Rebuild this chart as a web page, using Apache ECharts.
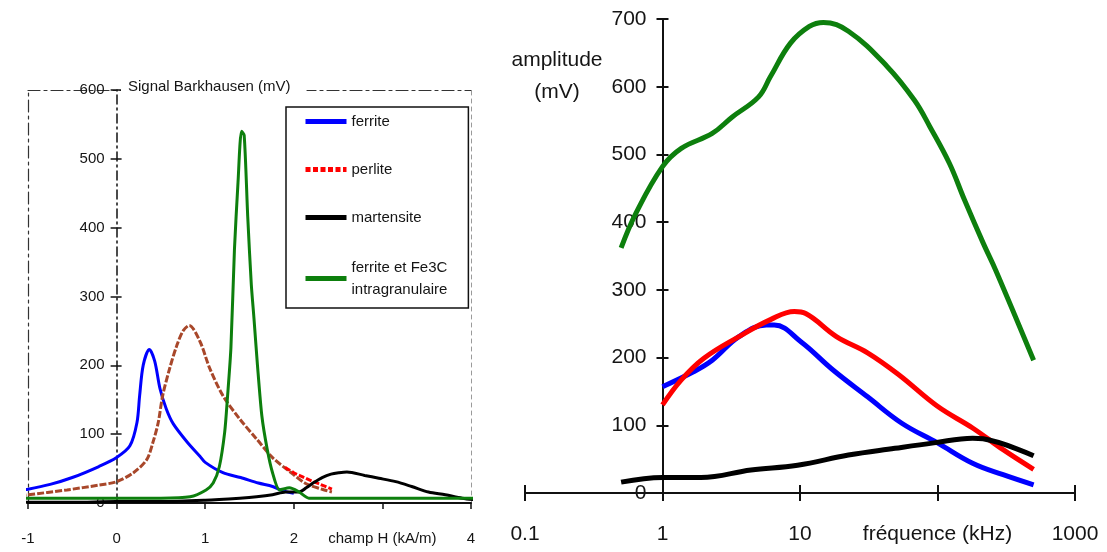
<!DOCTYPE html>
<html><head><meta charset="utf-8">
<script src="https://cdn.jsdelivr.net/npm/echarts@6/dist/echarts.min.js"></script>
<style>html,body{margin:0;padding:0;background:#fff}#c{width:1107px;height:552px}</style>
</head><body><div id="c"></div>
<script>
const FONT = "'Liberation Sans',Arial,Helvetica,sans-serif";

// ---------- Left panel: Barkhausen signal vs field ----------
const leftXTicks = [-1, 0, 1, 2, 3, 4];
const leftXLabels = ['-1', '0', '1', '2', 'champ H (kA/m)', '4'];

const ferriteH = [-1.2, -1, -0.75, -0.5, -0.2, 0, 0.15, 0.23, 0.26, 0.3, 0.37, 0.43, 0.49, 0.56, 0.64, 0.8, 0.94, 1.0, 1.2, 1.4, 1.6, 1.76, 1.87, 2.0];
const ferriteV = [16, 20, 27, 37, 53, 66, 83, 117, 156, 200, 223, 206, 166, 137, 115, 88, 68, 59, 44, 37, 29, 24, 18, 14];

const perliteH = [-1.2, -1, -0.56, -0.2, 0, 0.19, 0.34, 0.41, 0.47, 0.52, 0.6, 0.68, 0.75, 0.82, 0.94, 1.05, 1.2, 1.39, 1.58, 1.76, 1.95, 2.14, 2.32, 2.43];
const perliteV = [10, 12, 19, 26, 31, 44, 63, 88, 117, 156, 196, 229, 250, 258, 235, 196, 156, 122, 93, 66, 46, 28, 20, 16];
const perliteTailH = [1.9, 2.0, 2.1, 2.2, 2.3, 2.43];
const perliteTailV = [52, 44, 38, 32, 27, 20];

const martensiteH = [-1.2, -0.5, 0, 0.5, 1.0, 1.39, 1.58, 1.76, 1.91, 2.06, 2.14, 2.23, 2.32, 2.42, 2.51, 2.6, 2.8, 2.96, 3.15, 3.33, 3.52, 3.71, 3.9, 4.1, 4.2];
const martensiteV = [1, 1, 2, 2, 4, 7, 9, 12, 16, 16, 22, 30, 37, 42, 44, 45, 40, 36, 31, 24, 16, 12, 7, 4, 3];

const fe3cH = [-1.2, -0.5, 0, 0.5, 0.83, 1.01, 1.09, 1.16, 1.22, 1.25, 1.29, 1.33, 1.37, 1.41, 1.44, 1.48, 1.52, 1.55, 1.59, 1.64, 1.7, 1.76, 1.84, 1.95, 2.06, 2.17, 2.5, 3, 3.5, 4, 4.2];
const fe3cV = [7, 7, 7, 7, 9, 19, 29, 53, 103, 151, 225, 368, 465, 540, 534, 416, 318, 269, 200, 126, 78, 44, 19, 22, 16, 7, 7, 7, 7, 7, 7];

// ---------- Right panel: amplitude vs frequency ----------
const rightXTicks = [0.1, 1, 10, 100, 1000];
const rightXLabels = ['0.1', '1', '10', 'fréquence (kHz)', '1000'];

const freqFerrite = [1, 1.68, 2.3, 3.6, 5.7, 6.5, 10.2, 17.3, 31, 55, 100, 180, 300, 500];
const ampFerrite = [157, 179, 196, 231, 248, 248, 223, 182, 142, 103, 74, 44, 27, 12];
const freqPerlite = [1, 1.37, 2.0, 3.6, 6.1, 9.1, 11, 18.4, 31, 52, 100, 180, 300, 500];
const ampPerlite = [130, 167, 199, 231, 256, 268, 265, 231, 207, 175, 128, 96, 64, 35];
const freqMartensite = [0.5, 1, 1.9, 4.4, 9.6, 22.5, 49, 94, 180, 215, 500];
const ampMartensite = [16, 23, 23, 34, 41, 56, 66, 74, 81, 80, 55];
const freqFe3c = [0.5, 0.64, 1, 1.37, 2.3, 3.2, 5, 6.1, 8.5, 11.7, 14.8, 22.5, 43, 68, 88, 122, 157, 215, 265, 500];
const ampFe3c = [362, 413, 482, 509, 531, 555, 585, 615, 664, 689, 695, 682, 630, 580, 541, 487, 433, 369, 329, 196];

const NAME_F = 'ferrite', NAME_P = 'perlite', NAME_M = 'martensite', NAME_G = 'ferrite et Fe3C\nintragranulaire';
const BLUE = '#0000ff', RED = '#ff0000', BROWN = '#a8472a', BLACK = '#000000', GREEN = '#0d7f0d';
const TXT = '#151515';

const zip = (xs, ys) => xs.map((x, i) => [x, ys[i]]);

function leftLabel(v) {
  const i = leftXTicks.findIndex(t => Math.abs(t - v) < 1e-9);
  return i >= 0 ? leftXLabels[i] : '';
}
function rightLabel(v) {
  const i = rightXTicks.findIndex(t => Math.abs(Math.log10(t) - Math.log10(v)) < 1e-6);
  return i >= 0 ? rightXLabels[i] : '';
}

const LG = {left: 28, top: 90, width: 443, height: 413};
const RG = {left: 525, top: 19, width: 550, height: 474};
const leftZeroOffset = -LG.width / 5;       // axis drawn at x = 0 (range -1..4)
const rightOneOffset = -RG.width / 4;       // axis drawn at x = 1 (log range 0.1..1000)

const frameDash = [12, 4, 3, 4];

const option = {
  animation: false,
  backgroundColor: '#ffffff',
  textStyle: {fontFamily: FONT, color: TXT},
  title: [
    {text: 'Signal Barkhausen (mV)', left: 121, top: 74.5, padding: [2, 16, 2, 7], backgroundColor: '#ffffff',
     textStyle: {fontFamily: FONT, fontSize: 15, fontWeight: 'normal', color: TXT, lineHeight: 20}},
    {text: 'amplitude\n(mV)', left: 557, top: 44, textAlign: 'center', padding: 0,
     textStyle: {fontFamily: FONT, fontSize: 21, fontWeight: 'normal', color: TXT, lineHeight: 32}}
  ],
  legend: {
    left: 286, top: 107, orient: 'vertical', padding: [5.5, 21, 7.5, 17], itemGap: 30,
    itemWidth: 41, itemHeight: 14, borderColor: '#111', borderWidth: 1.5, backgroundColor: '#fff',
    selectedMode: false,
    textStyle: {fontFamily: FONT, fontSize: 15, color: TXT, lineHeight: 18},
    data: [
      {name: NAME_F, itemStyle: {opacity: 0}, lineStyle: {color: BLUE, width: 5, type: 'solid'}},
      {name: NAME_P, itemStyle: {opacity: 0}, lineStyle: {color: RED, width: 5, type: [5, 2.5]}},
      {name: NAME_M, itemStyle: {opacity: 0}, lineStyle: {color: BLACK, width: 5, type: 'solid'}},
      {name: NAME_G, itemStyle: {opacity: 0}, lineStyle: {color: GREEN, width: 5, type: 'solid'},
       textStyle: {lineHeight: 22}}
    ]
  },
  grid: [
    Object.assign({outerBoundsMode: 'none', containLabel: false}, LG),
    Object.assign({outerBoundsMode: 'none', containLabel: false}, RG)
  ],
  xAxis: [
    {gridIndex: 0, type: 'value', min: -1, max: 4, interval: 1, position: 'bottom',
     axisLine: {onZero: false, lineStyle: {color: '#111', width: 2}},
     axisTick: {show: true, length: 6, lineStyle: {color: '#111', width: 1.5}},
     axisLabel: {margin: 28, fontSize: 15, color: TXT, fontFamily: FONT, formatter: leftLabel},
     splitLine: {show: false}},
    {gridIndex: 0, type: 'value', min: -1, max: 4, interval: 1, position: 'top',
     axisLine: {onZero: false, lineStyle: {color: '#333', width: 1.2, type: frameDash}},
     axisTick: {show: false}, axisLabel: {show: false}, splitLine: {show: false}},
    {gridIndex: 1, type: 'log', logBase: 10, min: 0.1, max: 1000, position: 'bottom',
     axisLine: {onZero: false, lineStyle: {color: '#111', width: 2}},
     axisTick: {show: true, length: 8, lineStyle: {color: '#111', width: 2}},
     minorTick: {show: false},
     axisLabel: {margin: 31, fontSize: 21, color: TXT, fontFamily: FONT, formatter: rightLabel},
     splitLine: {show: false}},
    {gridIndex: 1, type: 'log', logBase: 10, min: 0.1, max: 1000, position: 'bottom',
     axisLine: {show: false, onZero: false},
     axisTick: {show: true, inside: true, length: 8, lineStyle: {color: '#111', width: 2}},
     axisLabel: {show: false}, splitLine: {show: false}}
  ],
  yAxis: [
    {gridIndex: 0, type: 'value', min: 0, max: 600, interval: 100, position: 'left', offset: leftZeroOffset,
     axisLine: {show: true, onZero: false, lineStyle: {color: '#111', width: 1.5, type: [9, 4, 2, 4]}},
     axisTick: {show: true, length: 6, lineStyle: {color: '#111', width: 1.5}},
     axisLabel: {margin: 12, fontSize: 15, color: TXT, fontFamily: FONT},
     splitLine: {show: false}},
    {gridIndex: 0, type: 'value', min: 0, max: 600, interval: 100, position: 'left', offset: leftZeroOffset,
     axisLine: {show: false, onZero: false},
     axisTick: {show: true, inside: true, length: 5, lineStyle: {color: '#111', width: 1.5}},
     axisLabel: {show: false}, splitLine: {show: false}},
    {gridIndex: 0, type: 'value', min: 0, max: 600, position: 'left', offset: 0,
     axisLine: {show: true, onZero: false, lineStyle: {color: '#333', width: 1.2, type: frameDash}},
     axisTick: {show: false}, axisLabel: {show: false}, splitLine: {show: false}},
    {gridIndex: 0, type: 'value', min: 0, max: 600, position: 'right', offset: 0,
     axisLine: {show: true, onZero: false, lineStyle: {color: '#9a9a9a', width: 1, type: [4, 4]}},
     axisTick: {show: false}, axisLabel: {show: false}, splitLine: {show: false}},
    {gridIndex: 1, type: 'value', min: 0, max: 700, interval: 100, position: 'left', offset: rightOneOffset,
     axisLine: {show: true, onZero: false, lineStyle: {color: '#111', width: 2}},
     axisTick: {show: true, length: 6, lineStyle: {color: '#111', width: 2}},
     axisLabel: {margin: 16, fontSize: 21, color: TXT, fontFamily: FONT},
     splitLine: {show: false}},
    {gridIndex: 1, type: 'value', min: 0, max: 700, interval: 100, position: 'left', offset: rightOneOffset,
     axisLine: {show: false, onZero: false},
     axisTick: {show: true, inside: true, length: 6, lineStyle: {color: '#111', width: 2}},
     axisLabel: {show: false}, splitLine: {show: false}}
  ],
  series: [
    // left panel
    {name: NAME_F, type: 'line', xAxisIndex: 0, yAxisIndex: 0, data: zip(ferriteH, ferriteV), smooth: 0.3,
     symbol: 'none', clip: false, lineStyle: {color: BLUE, width: 3}, itemStyle: {color: BLUE}},
    {name: NAME_P, type: 'line', xAxisIndex: 0, yAxisIndex: 0, data: zip(perliteH, perliteV), smooth: 0.3,
     symbol: 'none', clip: false, lineStyle: {color: BROWN, width: 3, type: [7, 2]}, itemStyle: {color: BROWN}},
    {name: 'perlite (fin)', type: 'line', xAxisIndex: 0, yAxisIndex: 0, data: zip(perliteTailH, perliteTailV), smooth: 0.3,
     symbol: 'none', clip: false, lineStyle: {color: RED, width: 3, type: [6, 2]}, itemStyle: {color: RED}},
    {name: NAME_M, type: 'line', xAxisIndex: 0, yAxisIndex: 0, data: zip(martensiteH, martensiteV), smooth: 0.3,
     symbol: 'none', clip: false, lineStyle: {color: BLACK, width: 3}, itemStyle: {color: BLACK}},
    {name: NAME_G, type: 'line', xAxisIndex: 0, yAxisIndex: 0, data: zip(fe3cH, fe3cV), smooth: 0.25,
     symbol: 'none', clip: false, lineStyle: {color: GREEN, width: 3}, itemStyle: {color: GREEN}},
    // right panel
    {name: NAME_F, type: 'line', xAxisIndex: 2, yAxisIndex: 4, data: zip(freqFerrite, ampFerrite), smooth: 0.4,
     symbol: 'none', lineStyle: {color: BLUE, width: 5}, itemStyle: {color: BLUE}},
    {name: NAME_P, type: 'line', xAxisIndex: 2, yAxisIndex: 4, data: zip(freqPerlite, ampPerlite), smooth: 0.4,
     symbol: 'none', lineStyle: {color: RED, width: 5}, itemStyle: {color: RED}},
    {name: NAME_M, type: 'line', xAxisIndex: 2, yAxisIndex: 4, data: zip(freqMartensite, ampMartensite), smooth: 0.4,
     symbol: 'none', lineStyle: {color: BLACK, width: 5}, itemStyle: {color: BLACK}},
    {name: NAME_G, type: 'line', xAxisIndex: 2, yAxisIndex: 4, data: zip(freqFe3c, ampFe3c), smooth: 0.4,
     symbol: 'none', lineStyle: {color: GREEN, width: 5}, itemStyle: {color: GREEN}}
  ]
};

const chart = echarts.init(document.getElementById('c'), null, {renderer: 'canvas'});
chart.setOption(option);
</script>
</body></html>
